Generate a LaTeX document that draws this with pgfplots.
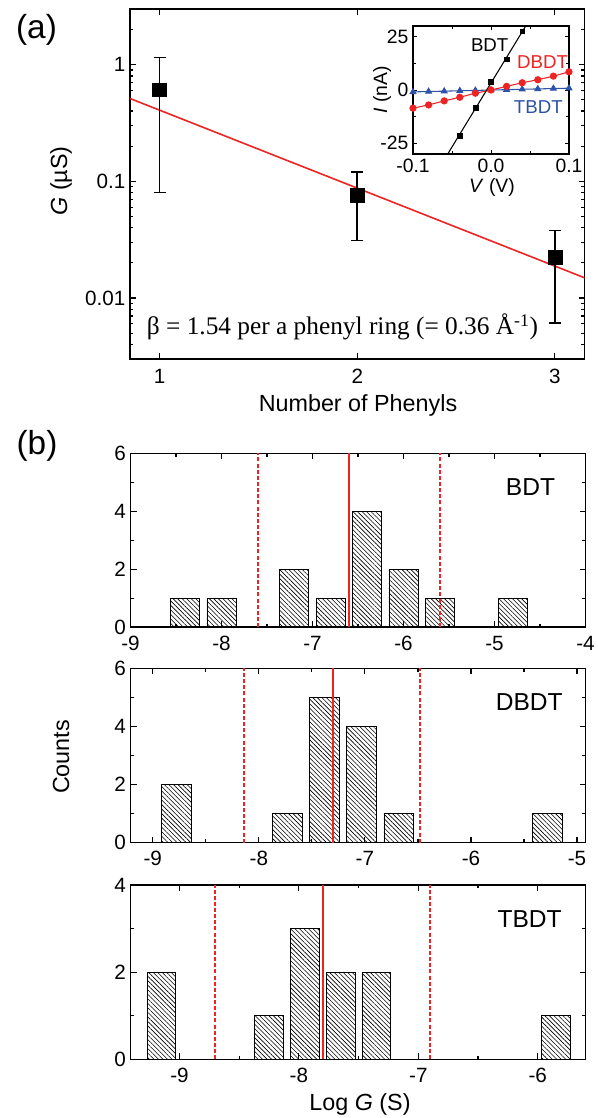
\documentclass[border=0pt]{standalone}
\usepackage{fontspec}
\setmainfont{Liberation Sans}
\newfontfamily\seriffont{Liberation Serif}
\usepackage{pgfplots}
\pgfplotsset{compat=1.18}
\usetikzlibrary{patterns.meta}
\definecolor{FitRed}{HTML}{EE2424}
\definecolor{IVBlue}{HTML}{2E52A8}
\newcommand{\fs}[1]{\fontsize{#1}{#1}\selectfont}

\pgfplotsset{
  panel/.style={
    scale only axis, anchor=north west,
    tick align=inside,
    axis line style={line width=1.1pt},
    every tick/.style={black, line width=0.9pt},
    major tick length=4.5pt, minor tick length=2.6pt,
    tick label style={font=\fs{15.5}},
  },
  hist/.style={panel, width=341.25pt, ymin=0,
    xticklabel style={yshift=-3pt}},
  histbar/.style={ybar, bar width=#1, draw=black, line width=0.6pt,
    pattern={Lines[angle=-45,distance=2.4pt,line width=0.45pt]}},
  mean/.style={FitRed, line width=1.4pt},
  spread/.style={FitRed, line width=1.4pt, dash pattern=on 3pt off 1.6pt},
}

\begin{document}
\begin{tikzpicture}
\useasboundingbox (0pt,0pt) rectangle (448.5pt,-838.5pt);

% (a) conductance vs number of phenyls
\begin{axis}[panel,
  at={(97.5pt,-6.75pt)}, width=340.9pt, height=262.5pt,
  ymode=log, xmin=0.85, xmax=3.15, ymin=0.003, ymax=3,
  xtick={1,2,3}, xticklabels={1,2,3},
  ytick={0.01,0.1,1}, yticklabels={0.01,0.1,1},
  minor ytick={0.004,0.005,0.006,0.007,0.008,0.009,0.02,0.03,0.04,0.05,0.06,0.07,0.08,0.09,0.2,0.3,0.4,0.5,0.6,0.7,0.8,0.9,2},
  xticklabel style={yshift=-4pt},
]
\addplot[FitRed, line width=1.2pt] coordinates {(0.85,0.513) (3.15,0.0149)};
\addplot[only marks, mark=square*, mark size=5.2pt, black,
  error bars/.cd, y dir=both, y explicit,
  error bar style={line width=1.2pt},
  error mark options={rotate=90, mark size=4.5pt, line width=1.2pt}]
coordinates {(1,0.61) +=(0,0.54) -=(0,0.53)
             (2,0.076) +=(0,0.044) -=(0,0.045)
             (3,0.0225) +=(0,0.0155) -=(0,0.0164)};
\end{axis}

% inset I-V curves
\begin{axis}[panel,
  at={(309.75pt,-19.5pt)}, width=117pt, height=96pt,
  axis background/.style={fill=white},
  axis line style={line width=0.9pt},
  every tick/.style={black, line width=0.7pt},
  major tick length=3pt, minor tick length=2pt,
  tick label style={font=\fs{14.5}},
  xmin=-0.1, xmax=0.1, ymin=-30, ymax=30,
  xtick={-0.1,0,0.1}, xticklabels={-0.1,0.0,0.1}, minor xtick={-0.05,0.05},
  ytick={-25,0,25}, yticklabels={-25,0,25}, minor ytick={-12.5,12.5},
]
\addplot[IVBlue, line width=0.8pt, mark=triangle*, mark size=2.4pt] coordinates {
  (-0.1,-0.9) (-0.08,-0.7) (-0.06,-0.55) (-0.04,-0.35) (-0.02,-0.2) (0,0)
  (0.02,0.15) (0.04,0.35) (0.06,0.5) (0.08,0.7) (0.1,0.85)};
\addplot[FitRed, line width=0.8pt, mark=*, mark size=2.3pt] coordinates {
  (-0.1,-8.5) (-0.08,-7.0) (-0.06,-5.1) (-0.04,-3.4) (-0.02,-1.5) (0,0)
  (0.02,1.7) (0.04,3.4) (0.06,4.8) (0.08,6.5) (0.1,8.5)};
\addplot[black, line width=0.8pt] coordinates {(-0.0555,-30) (0.0445,30)};
\addplot[black, only marks, mark=square*, mark size=1.8pt] coordinates {
  (-0.04,-21.4) (-0.02,-8.4) (0,3.7) (0.02,14.4) (0.04,27.5)};
\end{axis}

% (b) histograms
\begin{axis}[hist,
  at={(97.875pt,-340pt)}, height=130.3pt,
  xmin=-9, xmax=-4, ymax=6,
  xtick={-9,-8,-7,-6,-5,-4}, xticklabels={-9,-8,-7,-6,-5,-4},
  minor xtick={-8.5,-7.5,-6.5,-5.5,-4.5},
  ytick={0,2,4,6}, yticklabels={0,2,4,6}, minor ytick={1,3,5},
]
\addplot[histbar=0.32] coordinates {
  (-8.4,1) (-8.0,1) (-7.2,2) (-6.8,1) (-6.4,4) (-6.0,2) (-5.6,1) (-4.8,1)};
\addplot[spread] coordinates {(-7.6,0) (-7.6,6)};
\addplot[spread] coordinates {(-5.6,0) (-5.6,6)};
\addplot[mean] coordinates {(-6.6,0) (-6.6,6)};
\end{axis}

\begin{axis}[hist,
  at={(97.875pt,-501.2pt)}, height=130.8pt,
  xmin=-9.21, xmax=-4.92, ymax=6,
  xtick={-9,-8,-7,-6,-5}, xticklabels={-9,-8,-7,-6,-5},
  minor xtick={-8.5,-7.5,-6.5,-5.5},
  ytick={0,2,4,6}, yticklabels={0,2,4,6}, minor ytick={1,3,5},
]
\addplot[histbar=0.28] coordinates {
  (-8.78,2) (-7.73,1) (-7.38,5) (-7.03,4) (-6.68,1) (-5.28,1)};
\addplot[spread] coordinates {(-8.14,0) (-8.14,6)};
\addplot[spread] coordinates {(-6.48,0) (-6.48,6)};
\addplot[mean] coordinates {(-7.30,0) (-7.30,6)};
\end{axis}

\begin{axis}[hist,
  at={(97.875pt,-663.75pt)}, height=130.7pt,
  xmin=-9.41, xmax=-5.6, ymax=4,
  xtick={-9,-8,-7,-6}, xticklabels={-9,-8,-7,-6},
  minor xtick={-8.5,-7.5,-6.5},
  ytick={0,2,4}, yticklabels={0,2,4}, minor ytick={1,3},
]
\addplot[histbar=0.24] coordinates {
  (-9.15,2) (-8.25,1) (-7.95,3) (-7.65,2) (-7.35,2) (-5.85,1)};
\addplot[spread] coordinates {(-8.70,0) (-8.70,4)};
\addplot[spread] coordinates {(-6.90,0) (-6.90,4)};
\addplot[mean] coordinates {(-7.80,0) (-7.80,4)};
\end{axis}

% labels, positions in reference pixels
\begin{scope}[x=0.75pt, y=-0.75pt]
\node[font=\fs{25}] at (36.5,30) {(a)};
\node[font=\fs{25}] at (37,446) {(b)};
\node[font=\fs{17.5}, rotate=90] at (61,181) {\textit{G} (µS)};
\node[font=\fs{17.5}] at (358,405) {Number of Phenyls};
\node[font={\seriffont\fs{19}}] at (342.5,327) {β = 1.54 per a phenyl ring (= 0.36 Å\textsuperscript{-1})};
\node[font=\fs{17.5}, rotate=90] at (61,757) {Counts};
\node[font=\fs{17.5}] at (360,1104) {Log \textit{G} (S)};
\node[font=\fs{18.4}, anchor=east] at (559.7,486.7) {BDT};
\node[font=\fs{18.4}, anchor=east] at (567.3,701.7) {DBDT};
\node[font=\fs{18.4}, anchor=east] at (566.3,919.3) {TBDT};
\node[font=\fs{14}] at (489.7,45) {BDT};
\node[font=\fs{14}, text=FitRed] at (542.5,61.7) {DBDT};
\node[font=\fs{14}, text=IVBlue] at (538.3,106.7) {TBDT};
\node[font=\fs{14.5}, rotate=90] at (382,90) {\textit{I} (nA)};
\node[font=\fs{14.5}] at (492,187) {\textit{V} (V)};
\end{scope}
\end{tikzpicture}
\end{document}
